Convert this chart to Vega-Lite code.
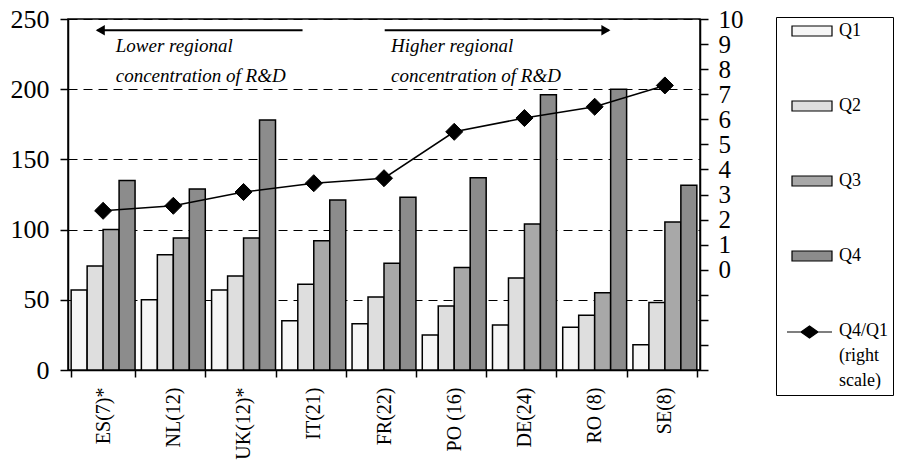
{
  "$schema": "https://vega.github.io/schema/vega-lite/v6.json",
  "width": 632,
  "height": 351,
  "autosize": {"type": "none"},
  "padding": {"left": 68, "top": 19, "right": 207, "bottom": 91},
  "background": "white",
  "config": {
    "view": {"stroke": "black", "strokeWidth": 1.5},
    "font": "Liberation Serif",
    "text": {"font": "Liberation Serif"},
    "axis": {"domainColor": "black", "domainWidth": 1.5, "tickColor": "black", "tickWidth": 1.5, "labelColor": "black", "labelFont": "Liberation Serif", "labelOverlap": false},
    "legend": {"labelFont": "Liberation Serif"}
  },
  "datasets": {
    "bars": [
      {"region": "ES(7)*", "quartile": "Q1", "value": 57},
      {"region": "ES(7)*", "quartile": "Q2", "value": 74},
      {"region": "ES(7)*", "quartile": "Q3", "value": 100},
      {"region": "ES(7)*", "quartile": "Q4", "value": 135},
      {"region": "NL(12)", "quartile": "Q1", "value": 50},
      {"region": "NL(12)", "quartile": "Q2", "value": 82},
      {"region": "NL(12)", "quartile": "Q3", "value": 94},
      {"region": "NL(12)", "quartile": "Q4", "value": 129},
      {"region": "UK(12)*", "quartile": "Q1", "value": 57},
      {"region": "UK(12)*", "quartile": "Q2", "value": 67},
      {"region": "UK(12)*", "quartile": "Q3", "value": 94},
      {"region": "UK(12)*", "quartile": "Q4", "value": 178},
      {"region": "IT(21)", "quartile": "Q1", "value": 35},
      {"region": "IT(21)", "quartile": "Q2", "value": 61},
      {"region": "IT(21)", "quartile": "Q3", "value": 92},
      {"region": "IT(21)", "quartile": "Q4", "value": 121},
      {"region": "FR(22)", "quartile": "Q1", "value": 33},
      {"region": "FR(22)", "quartile": "Q2", "value": 52},
      {"region": "FR(22)", "quartile": "Q3", "value": 76},
      {"region": "FR(22)", "quartile": "Q4", "value": 123},
      {"region": "PO (16)", "quartile": "Q1", "value": 25},
      {"region": "PO (16)", "quartile": "Q2", "value": 45.5},
      {"region": "PO (16)", "quartile": "Q3", "value": 73},
      {"region": "PO (16)", "quartile": "Q4", "value": 137},
      {"region": "DE(24)", "quartile": "Q1", "value": 32},
      {"region": "DE(24)", "quartile": "Q2", "value": 65.5},
      {"region": "DE(24)", "quartile": "Q3", "value": 104},
      {"region": "DE(24)", "quartile": "Q4", "value": 196},
      {"region": "RO (8)", "quartile": "Q1", "value": 30.5},
      {"region": "RO (8)", "quartile": "Q2", "value": 39},
      {"region": "RO (8)", "quartile": "Q3", "value": 55},
      {"region": "RO (8)", "quartile": "Q4", "value": 200},
      {"region": "SE(8)", "quartile": "Q1", "value": 18},
      {"region": "SE(8)", "quartile": "Q2", "value": 48},
      {"region": "SE(8)", "quartile": "Q3", "value": 105.5},
      {"region": "SE(8)", "quartile": "Q4", "value": 131.5}
    ],
    "ratio": [
      {"region": "ES(7)*", "ratio": 2.35},
      {"region": "NL(12)", "ratio": 2.55},
      {"region": "UK(12)*", "ratio": 3.1},
      {"region": "IT(21)", "ratio": 3.45},
      {"region": "FR(22)", "ratio": 3.65},
      {"region": "PO (16)", "ratio": 5.5},
      {"region": "DE(24)", "ratio": 6.05},
      {"region": "RO (8)", "ratio": 6.5},
      {"region": "SE(8)", "ratio": 7.35}
    ],
    "arrows": [
      {"from": 3.34, "to": 0.42, "level": 242, "dir": "left"},
      {"from": 4.51, "to": 7.7, "level": 242, "dir": "right"}
    ],
    "heads": [
      {"pos": 0.46, "level": 242, "dir": "left"},
      {"pos": 7.66, "level": 242, "dir": "right"}
    ],
    "notes": [
      {"pos": 0.68, "level": 226.3, "text": "Lower regional\nconcentration of R&D"},
      {"pos": 4.6, "level": 226.3, "text": "Higher regional\nconcentration of R&D"}
    ]
  },
  "layer": [
    {
      "data": {"name": "bars"},
      "mark": {"type": "bar", "stroke": "black", "strokeWidth": 1.5},
      "encoding": {
        "x": {"field": "region", "type": "nominal", "sort": null,
          "scale": {"paddingInner": 0.09, "paddingOuter": 0.045},
          "axis": {"title": null, "labelAngle": -90, "labelFont": "Liberation Serif", "labelFontSize": 20, "tickBand": "extent", "tickSize": 7, "labelPadding": 10, "grid": false, "labelOverlap": false}},
        "xOffset": {"field": "quartile", "type": "nominal", "sort": null, "scale": {"paddingInner": 0, "paddingOuter": 0}},
        "y": {"field": "value", "type": "quantitative",
          "scale": {"domain": [0, 250], "nice": false},
          "axis": {"title": null, "values": [0, 50, 100, 150, 200, 250], "grid": true, "gridDash": [9, 6], "gridColor": "black", "gridWidth": 1, "gridOpacity": 1, "labelFont": "Liberation Serif", "labelFontSize": 26, "tickSize": 8, "labelPadding": 11, "labelOverlap": false}},
        "fill": {"field": "quartile", "type": "nominal",
          "scale": {"domain": ["Q1", "Q2", "Q3", "Q4", "Q4/Q1"], "range": ["#f6f6f6", "#dedede", "#a8a8a8", "#8c8c8c", "black"]},
          "legend": {
            "title": null, "orient": "none", "legendX": 708, "legendY": -2,
            "strokeColor": "black", "padding": 5, "fillColor": "white",
            "symbolType": "M0.4,-0.5H4.4V0.5H0.4Z", "symbolSize": 100,
            "symbolStrokeColor": "black", "symbolStrokeWidth": 1.2, "symbolOpacity": 1,
            "labelFontSize": 18, "labelFont": "Liberation Serif", "labelColor": "black",
            "labelOffset": 40, "rowPadding": 57, "labelLimit": 300,
            "encode": {
              "symbols": {"update": {"shape": {"signal": "datum.value === 'Q4/Q1' ? 'M-0.6,0H8.4M3.9,-1.2L5.6,0L3.9,1.2L2.2,0Z' : 'M0.4,-1H8.4V1H0.4Z'"}}},
              "labels": {"update": {
                "text": {"signal": "datum.value === 'Q4/Q1' ? ['Q4/Q1', '(right', 'scale)'] : datum.label"},
                "font": {"value": "Liberation Serif"},
                "baseline": {"signal": "datum.value === 'Q4/Q1' ? 'top' : 'middle'"},
                "dy": {"signal": "datum.value === 'Q4/Q1' ? -10 : 0"},
                "lineHeight": {"value": 25}
              }}
            }
          }}
      }
    },
    {
      "data": {"name": "ratio"},
      "mark": {"type": "line", "color": "black", "strokeWidth": 1.5},
      "encoding": {
        "x": {"field": "region", "type": "nominal", "sort": null, "scale": {"type": "band", "paddingInner": 0.09, "paddingOuter": 0.045}, "axis": null},
        "y": {"field": "ratio", "type": "quantitative", "scale": {"domain": [-4, 10], "nice": false},
          "axis": {"orient": "right", "title": null, "values": [-4, -3, -2, -1, 0, 1, 2, 3, 4, 5, 6, 7, 8, 9, 10], "labelExpr": "datum.value >= 0 ? datum.label : ''", "labelFont": "Liberation Serif", "labelFontSize": 25, "tickSize": 8, "labelPadding": 10, "grid": false, "labelOverlap": false}}
      }
    },
    {
      "data": {"name": "ratio"},
      "mark": {"type": "point", "shape": "diamond", "size": 290, "filled": true, "opacity": 1, "stroke": "black", "strokeWidth": 1},
      "encoding": {
        "x": {"field": "region", "type": "nominal", "sort": null, "scale": {"type": "band", "paddingInner": 0.09, "paddingOuter": 0.045}, "axis": null},
        "y": {"field": "ratio", "type": "quantitative", "scale": {"domain": [-4, 10], "nice": false}, "axis": null},
        "fill": {"datum": "Q4/Q1", "type": "nominal"}
      }
    },
    {
      "data": {"name": "arrows"},
      "mark": {"type": "rule", "color": "black", "strokeWidth": 2},
      "encoding": {
        "x": {"field": "from", "type": "quantitative", "scale": {"domain": [0, 9], "nice": false, "zero": false}, "axis": null},
        "x2": {"field": "to"},
        "y": {"field": "level", "type": "quantitative", "scale": {"domain": [0, 250], "nice": false}, "axis": null}
      }
    },
    {
      "data": {"name": "heads"},
      "mark": {"type": "point", "filled": true, "size": 110, "opacity": 1, "color": "black"},
      "encoding": {
        "x": {"field": "pos", "type": "quantitative", "scale": {"domain": [0, 9], "nice": false, "zero": false}, "axis": null},
        "y": {"field": "level", "type": "quantitative", "scale": {"domain": [0, 250], "nice": false}, "axis": null},
        "shape": {"field": "dir", "type": "nominal", "scale": {"domain": ["left", "right"], "range": ["triangle-left", "triangle-right"]}, "legend": null}
      }
    },
    {
      "data": {"name": "notes"},
      "mark": {"type": "text", "font": "Liberation Serif", "fontStyle": "italic", "fontSize": 19, "align": "left", "baseline": "alphabetic", "lineBreak": "\n", "lineHeight": 30, "color": "black"},
      "encoding": {
        "x": {"field": "pos", "type": "quantitative", "scale": {"domain": [0, 9], "nice": false, "zero": false}, "axis": null},
        "y": {"field": "level", "type": "quantitative", "scale": {"domain": [0, 250], "nice": false}, "axis": null},
        "text": {"field": "text"}
      }
    }
  ],
  "resolve": {"scale": {"x": "independent", "y": "independent"}}
}
